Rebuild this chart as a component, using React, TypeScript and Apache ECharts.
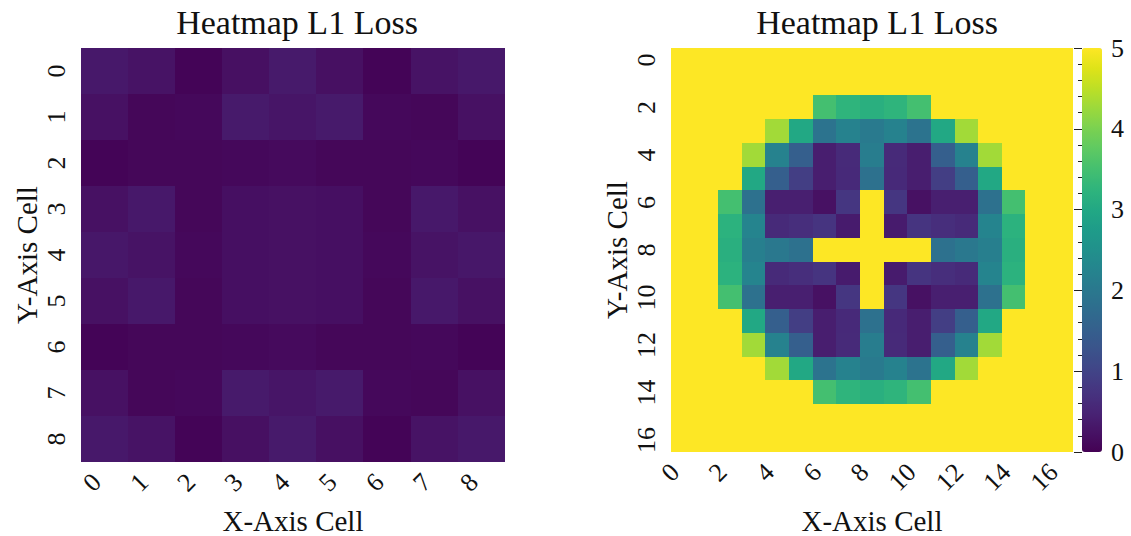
import React, { useEffect, useRef } from "react";
import * as echarts from "echarts";

// ---- data ----
const smallTicks = ["0", "1", "2", "3", "4", "5", "6", "7", "8"];
const largeTicks = ["0", "1", "2", "3", "4", "5", "6", "7", "8", "9", "10", "11", "12", "13", "14", "15", "16"];
const colorbarTicks = [0, 1, 2, 3, 4, 5];

const lossSmall = [
  [0.33, 0.25, 0.04, 0.21, 0.35, 0.21, 0.04, 0.25, 0.33],
  [0.22, 0.08, 0.1, 0.35, 0.28, 0.35, 0.1, 0.08, 0.22],
  [0.04, 0.08, 0.08, 0.1, 0.13, 0.08, 0.08, 0.1, 0.04],
  [0.22, 0.33, 0.08, 0.2, 0.22, 0.2, 0.08, 0.33, 0.22],
  [0.31, 0.25, 0.1, 0.2, 0.22, 0.2, 0.1, 0.25, 0.31],
  [0.22, 0.33, 0.08, 0.2, 0.22, 0.2, 0.08, 0.33, 0.22],
  [0.04, 0.08, 0.08, 0.1, 0.13, 0.08, 0.08, 0.1, 0.04],
  [0.22, 0.08, 0.1, 0.35, 0.28, 0.35, 0.1, 0.08, 0.22],
  [0.33, 0.25, 0.04, 0.21, 0.35, 0.21, 0.04, 0.25, 0.33],
];

const lossLarge = [
  [5, 5, 5, 5, 5, 5, 5, 5, 5, 5, 5, 5, 5, 5, 5, 5, 5],
  [5, 5, 5, 5, 5, 5, 5, 5, 5, 5, 5, 5, 5, 5, 5, 5, 5],
  [5, 5, 5, 5, 5, 5, 3.5, 3.25, 3.15, 3.25, 3.5, 5, 5, 5, 5, 5, 5],
  [5, 5, 5, 5, 4.3, 3.0, 1.9, 2.2, 2.05, 2.2, 1.9, 3.0, 4.3, 5, 5, 5, 5],
  [5, 5, 5, 4.3, 2.2, 1.5, 0.41, 0.6, 2.1, 0.6, 0.41, 1.5, 2.2, 4.3, 5, 5, 5],
  [5, 5, 5, 3.0, 1.5, 0.9, 0.41, 0.58, 1.85, 0.58, 0.41, 0.9, 1.5, 3.0, 5, 5, 5],
  [5, 5, 3.5, 1.85, 0.42, 0.42, 0.22, 0.78, 5, 0.78, 0.22, 0.42, 0.42, 1.85, 3.5, 5, 5],
  [5, 5, 3.2, 2.25, 0.6, 0.65, 0.75, 0.37, 5, 0.37, 0.75, 0.65, 0.6, 2.25, 3.2, 5, 5],
  [5, 5, 3.15, 2.15, 2.0, 1.85, 5, 5, 5, 5, 5, 1.85, 2.0, 2.15, 3.15, 5, 5],
  [5, 5, 3.2, 2.25, 0.6, 0.65, 0.75, 0.37, 5, 0.37, 0.75, 0.65, 0.6, 2.25, 3.2, 5, 5],
  [5, 5, 3.5, 1.85, 0.42, 0.42, 0.22, 0.78, 5, 0.78, 0.22, 0.42, 0.42, 1.85, 3.5, 5, 5],
  [5, 5, 5, 3.0, 1.5, 0.9, 0.41, 0.58, 1.85, 0.58, 0.41, 0.9, 1.5, 3.0, 5, 5, 5],
  [5, 5, 5, 4.3, 2.2, 1.5, 0.41, 0.6, 2.1, 0.6, 0.41, 1.5, 2.2, 4.3, 5, 5, 5],
  [5, 5, 5, 5, 4.3, 3.0, 1.9, 2.2, 2.05, 2.2, 1.9, 3.0, 4.3, 5, 5, 5, 5],
  [5, 5, 5, 5, 5, 5, 3.5, 3.25, 3.15, 3.25, 3.5, 5, 5, 5, 5, 5, 5],
  [5, 5, 5, 5, 5, 5, 5, 5, 5, 5, 5, 5, 5, 5, 5, 5, 5],
  [5, 5, 5, 5, 5, 5, 5, 5, 5, 5, 5, 5, 5, 5, 5, 5, 5],
];

const viridis = [
  "#440154", "#471365", "#482475", "#463480", "#414487", "#3b528b", "#355f8d",
  "#2f6c8e", "#2a788e", "#25848e", "#21918c", "#1e9c89", "#22a884", "#2fb47c",
  "#44bf70", "#5ec962", "#7ad151", "#9bd93c", "#bddf26", "#dfe318", "#fde725",
];

const chartTitle = "Heatmap L1 Loss";
const xName = "X-Axis Cell";
const yName = "Y-Axis Cell";

const FONT = "'Liberation Serif', serif";
const TXT = "#111";

function toCells(m: number[][]) {
  const out: number[][] = [];
  m.forEach((row, y) => row.forEach((v, x) => out.push([x, y, v])));
  return out;
}

export default function App() {
  const ref = useRef<HTMLDivElement>(null);
  useEffect(() => {
    if (!ref.current) return;
    const chart = echarts.init(ref.current, null, { renderer: "svg" });

    const catX = (gridIndex: number, data: string[], gap: number, interval: number) => ({
      type: "category",
      gridIndex,
      data,
      axisLine: { show: false },
      axisTick: { show: false },
      splitLine: { show: false },
      axisLabel: {
        rotate: 45, fontSize: 26, fontFamily: FONT, color: TXT, margin: 8, interval,
        padding: [0, 11, 0, 0],
      },
      name: xName,
      nameLocation: "middle",
      nameGap: gap,
      nameTextStyle: { fontSize: 29, fontFamily: FONT, color: TXT },
    });
    const catY = (gridIndex: number, data: string[], interval: number) => ({
      type: "category",
      gridIndex,
      data,
      inverse: true,
      axisLine: { show: false },
      axisTick: { show: false },
      splitLine: { show: false },
      axisLabel: { rotate: 90, fontSize: 26, fontFamily: FONT, color: TXT, margin: 12, interval },
      name: yName,
      nameLocation: "middle",
      nameGap: 40,
      nameTextStyle: { fontSize: 29, fontFamily: FONT, color: TXT },
    });

    chart.setOption({
      animation: false,
      backgroundColor: "#ffffff",
      textStyle: { fontFamily: FONT, color: TXT },
      title: [
        { text: chartTitle, left: 292, top: 0, textAlign: "center", textStyle: { fontSize: 34, fontWeight: "normal", fontFamily: FONT, color: TXT } },
        { text: chartTitle, left: 872, top: 0, textAlign: "center", textStyle: { fontSize: 34, fontWeight: "normal", fontFamily: FONT, color: TXT } },
      ],
      grid: [
        { left: 81, top: 48, width: 424, height: 414, containLabel: false, outerBoundsMode: "none" },
        { left: 671, top: 48, width: 402, height: 404, containLabel: false, outerBoundsMode: "none" },
        { left: 1082, top: 48, width: 20, height: 404, containLabel: false, outerBoundsMode: "none" },
      ],
      xAxis: [
        catX(0, smallTicks, 44, 0),
        catX(1, largeTicks, 54, 1),
        { type: "value", gridIndex: 2, show: false, min: 0, max: 1 },
      ],
      yAxis: [
        catY(0, smallTicks, 0),
        catY(1, largeTicks, 1),
        {
          type: "value",
          gridIndex: 2,
          position: "right",
          min: colorbarTicks[0],
          max: colorbarTicks[colorbarTicks.length - 1],
          interval: 1,
          z: 10,
          axisLine: { show: false },
          axisTick: { show: true, inside: true, length: 8, lineStyle: { color: "#222", width: 1 } },
          minorTick: { show: true, splitNumber: 5, length: 4, lineStyle: { color: "#222", width: 1 } },
          splitLine: { show: false },
          minorSplitLine: { show: false },
          axisLabel: { margin: 9, fontSize: 26, fontFamily: FONT, color: TXT },
        },
      ],
      visualMap: {
        type: "continuous",
        min: 0,
        max: 5,
        seriesIndex: [0, 1],
        calculable: false,
        orient: "vertical",
        left: 1082,
        top: 48,
        itemWidth: 20,
        itemHeight: 404,
        padding: 0,
        text: ["", ""],
        showLabel: false,
        inRange: { color: viridis },
      },
      series: [
        { type: "heatmap", xAxisIndex: 0, yAxisIndex: 0, data: toCells(lossSmall), emphasis: { disabled: true } },
        { type: "heatmap", xAxisIndex: 1, yAxisIndex: 1, data: toCells(lossLarge), emphasis: { disabled: true } },
      ],
    });
    return () => chart.dispose();
  }, []);
  return (
    <div
      ref={ref}
      style={{
        position: "fixed", left: 0, top: 0, width: 1131, height: 536, background: "#fff",
        shapeRendering: "crispEdges",
      } as any}
    />
  );
}
